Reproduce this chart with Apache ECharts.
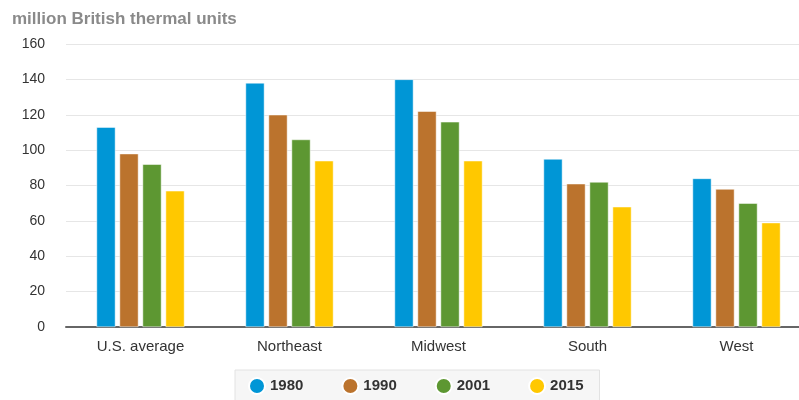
<!DOCTYPE html>
<html>
<head>
<meta charset="utf-8">
<script src="https://cdn.jsdelivr.net/npm/echarts@6/dist/echarts.min.js"></script>
<style>
  html, body { margin: 0; padding: 0; background: #fff; }
  #chart { width: 799px; height: 400px; }
</style>
</head>
<body>
<div id="chart"></div>
<script>
// Residential energy consumption per household, by region
const regions = ['U.S. average', 'Northeast', 'Midwest', 'South', 'West'];
const years = ['1980', '1990', '2001', '2015'];
const values1980 = [113, 138, 140, 95, 84];
const values1990 = [98, 120, 122, 81, 78];
const values2001 = [92, 106, 116, 82, 70];
const values2015 = [77, 94, 94, 68, 59];
const yTicks = [0, 20, 40, 60, 80, 100, 120, 140, 160];
const colors = ['#0096d6', '#bb732d', '#5d9732', '#ffc800'];

const seriesValues = [values1980, values1990, values2001, values2015];

const chart = echarts.init(document.getElementById('chart'));
chart.setOption({
  animation: false,
  color: colors,
  textStyle: { fontFamily: 'Arial, "Liberation Sans", sans-serif' },
  title: {
    text: 'million British thermal units',
    left: 7,
    top: 6,
    textStyle: { fontSize: 17, fontWeight: 'bold', color: '#8a8a8a' }
  },
  // plot area runs past the right edge of the canvas
  grid: { left: 66, width: 745, top: 44, bottom: 73, outerBoundsMode: 'none', containLabel: false },
  legend: {
    data: years,
    left: 235,
    top: 370,
    icon: 'circle',
    itemWidth: 16,
    itemHeight: 16,
    itemGap: 38,
    padding: [7, 16, 10, 13],
    backgroundColor: '#f6f6f6',
    borderColor: '#e2e2e2',
    borderWidth: 1,
    borderRadius: 0,
    textStyle: { fontSize: 15, fontWeight: 'bold', color: '#333' }
  },
  xAxis: {
    type: 'category',
    data: regions,
    axisLine: { lineStyle: { color: '#666', width: 2 } },
    axisTick: { show: false },
    axisLabel: { fontSize: 15, color: '#333', margin: 12 }
  },
  yAxis: {
    type: 'value',
    min: yTicks[0],
    max: yTicks[yTicks.length - 1],
    interval: 20,
    axisLine: { show: false },
    axisTick: { show: false },
    axisLabel: { fontSize: 14, color: '#333', margin: 21 },
    splitLine: { lineStyle: { color: '#e6e6e6', width: 1 } }
  },
  series: years.map((y, i) => ({
    name: y,
    type: 'bar',
    data: seriesValues[i],
    barGap: '22%',
    barCategoryGap: '41%',
    itemStyle: { borderColor: '#fff', borderWidth: 0.5 }
  }))
});
</script>
</body>
</html>
